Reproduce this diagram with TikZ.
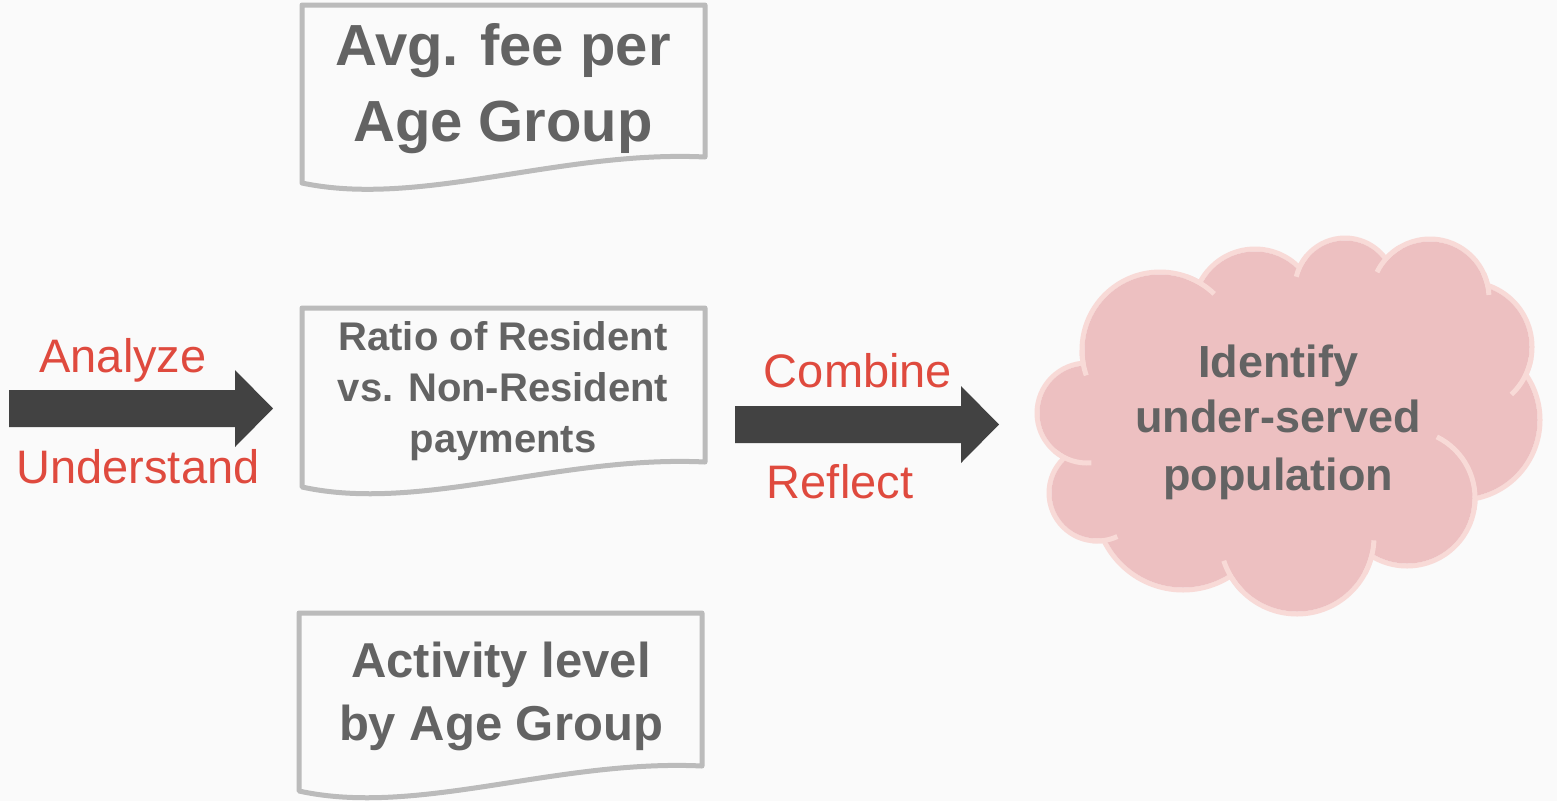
\documentclass[tikz,border=0pt]{standalone}
\usepackage{fontspec}
\setmainfont{Liberation Sans}
\definecolor{bg}{HTML}{FAFAFA}
\definecolor{txt}{HTML}{636363}
\definecolor{docline}{HTML}{BBBBBB}
\definecolor{redlab}{HTML}{DF4A3E}
\definecolor{arrowc}{HTML}{424242}
\definecolor{cloudfill}{HTML}{EDC0C1}
\definecolor{cloudline}{HTML}{F8DAD7}
\begin{document}
\begin{tikzpicture}[x=1pt,y=-1pt,
  docshape/.style={draw=docline, line width=5pt, fill=bg, line join=round},
  bigtext/.style={anchor=base, text=txt, inner sep=0pt, font=\bfseries\fontsize{58}{70}\selectfont},
  midtext/.style={anchor=base, text=txt, inner sep=0pt, font=\bfseries\fontsize{40}{48}\selectfont},
  lowtext/.style={anchor=base, text=txt, inner sep=0pt, font=\bfseries\fontsize{49}{58}\selectfont},
  cloudtext/.style={anchor=base, text=txt, inner sep=0pt, font=\bfseries\fontsize{45}{54}\selectfont},
  redtext/.style={anchor=base, text=redlab, inner sep=0pt, font=\fontsize{47}{56}\selectfont},
  blockarrow/.style={fill=arrowc},
  frag/.style={draw=cloudline, line width=5pt}
]
\useasboundingbox (0,0) rectangle (1557,801);
\clip (0,0) rectangle (1557,801);
% background
\fill[bg] (0,0) rectangle (1557,801);

% documents
\path[docshape] (302,5) -- (705,5) -- (705,157) .. controls (560,150) and (420,208) .. (302,183) -- cycle;
\path[docshape] (302,308) -- (705,308) -- (705,462) .. controls (560,455) and (420,513) .. (302,487) -- cycle;
\path[docshape] (299,613) -- (702,613) -- (702,766) .. controls (557,759) and (417,817) .. (299,791) -- cycle;

\node[bigtext] (d1a) at (503,65) {Avg. fee per};
\node[bigtext] (d1b) at (503,141) {Age Group};
\node[midtext] (d2a) at (503,350) {Ratio of Resident};
\node[midtext] (d2b) at (503,401) {vs. Non-Resident};
\node[midtext] (d2c) at (503,452) {payments};
\node[lowtext] (d3a) at (501,677) {Activity level};
\node[lowtext] (d3b) at (501,740) {by Age Group};

% block arrows
\fill[blockarrow] (9,390) -- (235,390) -- (235,370) -- (273,408.5) -- (235,447) -- (235,427) -- (9,427) -- cycle;
\fill[blockarrow] (735,406) -- (961,406) -- (961,386) -- (999,424.5) -- (961,463) -- (961,443) -- (735,443) -- cycle;

\node[redtext] (an) at (123,372) {Analyze};
\node[redtext] (un) at (138,483) {Understand};
\node[redtext] (co) at (858,387) {Combine};
\node[redtext] (re) at (840,498) {Reflect};

% cloud
\coordinate (c1) at (1160,350);
\coordinate (c2) at (1255,311);
\coordinate (c3) at (1345,288);
\coordinate (c4) at (1430,298);
\coordinate (c5) at (1467,347);
\coordinate (c6) at (1460,420);
\coordinate (c7) at (1407,498);
\coordinate (c8) at (1297,537);
\coordinate (c9) at (1183,502);
\coordinate (c10) at (1097,493);
\coordinate (c11) at (1087,413);
\begin{scope}[draw=cloudline, line width=5pt]
\draw (c1) circle[radius=78pt];
\draw (c2) circle[radius=62pt];
\draw (c3) circle[radius=50pt];
\draw (c4) circle[radius=59pt];
\draw (c5) circle[radius=65pt];
\draw (c6) circle[radius=80pt];
\draw (c7) circle[radius=68pt];
\draw (c8) circle[radius=77pt];
\draw (c9) circle[radius=88pt];
\draw (c10) circle[radius=48pt];
\draw (c11) circle[radius=50pt];
\end{scope}
\begin{scope}[fill=cloudfill]
\fill (c1) circle[radius=75.5pt];
\fill (c2) circle[radius=59.5pt];
\fill (c3) circle[radius=47.5pt];
\fill (c4) circle[radius=56.5pt];
\fill (c5) circle[radius=62.5pt];
\fill (c6) circle[radius=77.5pt];
\fill (c7) circle[radius=65.5pt];
\fill (c8) circle[radius=74.5pt];
\fill (c9) circle[radius=85.5pt];
\fill (c10) circle[radius=45.5pt];
\fill (c11) circle[radius=47.5pt];
\fill (c1) -- (c2) -- (c3) -- (c4) -- (c5) -- (c6) -- (c7) -- (c8) -- (c9) -- (c10) -- (c11) -- cycle;
\end{scope}
% inner arc fragments of the cloud
\draw[frag] ([shift={(180:78pt)}]c1) arc[start angle=180, end angle=199, radius=78pt];
\draw[frag] ([shift={(46:78pt)}]c1) arc[start angle=46, end angle=70, radius=78pt];
\draw[frag] ([shift={(140:50pt)}]c3) arc[start angle=140, end angle=167, radius=50pt];
\draw[frag] ([shift={(120:59pt)}]c4) arc[start angle=120, end angle=154, radius=59pt];
\draw[frag] ([shift={(3:59pt)}]c4) arc[start angle=3, end angle=25, radius=59pt];
\draw[frag] ([shift={(-47:65pt)}]c5) arc[start angle=-47, end angle=-10, radius=65pt];
\draw[frag] ([shift={(-10:68pt)}]c7) arc[start angle=-10, end angle=64, radius=68pt];
\draw[frag] ([shift={(-28:77pt)}]c8) arc[start angle=-28, end angle=-2.5, radius=77pt];
\draw[frag] ([shift={(198:77pt)}]c8) arc[start angle=198, end angle=225, radius=77pt];
\draw[frag] ([shift={(-95:48pt)}]c10) arc[start angle=-95, end angle=-65, radius=48pt];
\draw[frag] ([shift={(230:50pt)}]c11) arc[start angle=230, end angle=275, radius=50pt];

\node[cloudtext] (ca) at (1278,377) {Identify};
\node[cloudtext] (cb) at (1278,432) {under-served};
\node[cloudtext] (cc) at (1278,490) {population};
\end{tikzpicture}
\end{document}
